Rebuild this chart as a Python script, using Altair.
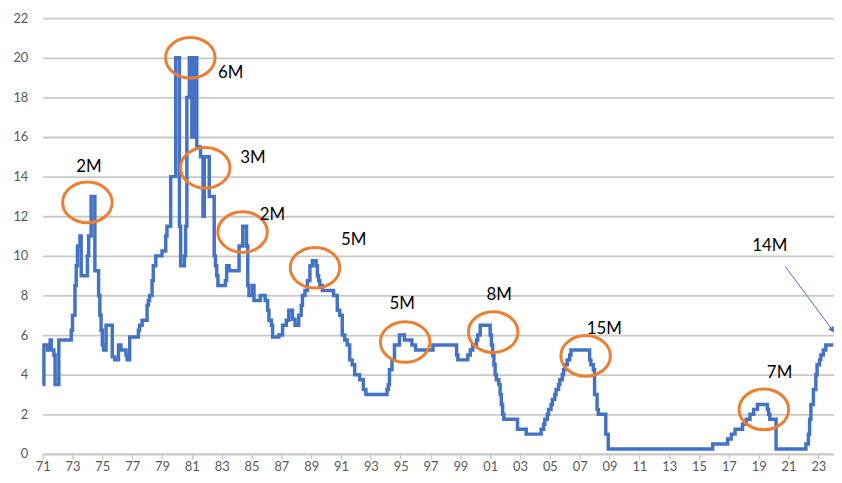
import altair as alt
import pandas as pd

# Policy-rate breakpoints (month the level starts, level in %)
months = [
    "1971-01", "1971-02", "1971-05", "1971-07", "1971-08", "1971-10", "1971-11", "1972-02", "1972-12",
    "1973-01", "1973-03", "1973-04", "1973-05", "1973-07", "1973-08", "1974-01", "1974-02", "1974-04",
    "1974-07", "1974-10", "1974-11", "1974-12", "1975-01", "1975-02", "1975-04", "1975-09", "1975-11",
    "1976-02", "1976-04", "1976-08", "1976-09", "1976-11", "1977-06", "1977-07", "1977-09", "1978-01",
    "1978-02", "1978-03", "1978-05", "1978-06", "1978-08", "1979-01", "1979-04", "1979-05", "1979-08",
    "1979-12", "1980-03", "1980-04", "1980-07", "1980-08", "1980-09", "1980-11", "1981-01", "1981-03",
    "1981-05", "1981-08", "1981-10", "1981-11", "1982-03", "1982-07", "1982-08", "1982-09", "1982-10",
    "1983-04", "1983-05", "1983-07", "1984-03", "1984-06", "1984-09", "1984-10", "1984-11", "1985-02",
    "1985-03", "1985-08", "1985-12", "1986-02", "1986-03", "1986-05", "1986-06", "1986-11", "1987-02",
    "1987-05", "1987-07", "1987-10", "1987-12", "1988-03", "1988-05", "1988-06", "1988-08", "1988-10",
    "1988-12", "1989-02", "1989-05", "1989-06", "1989-07", "1989-08", "1989-10", "1990-07", "1990-10",
    "1990-12", "1991-02", "1991-04", "1991-06", "1991-08", "1991-10", "1991-12", "1992-04", "1992-07",
    "1992-09", "1994-02", "1994-03", "1994-04", "1994-06", "1994-08", "1994-12", "1995-04", "1995-10",
    "1996-01", "1997-03", "1998-10", "1998-11", "1999-07", "1999-09", "1999-11", "2000-02", "2000-03",
    "2000-05", "2001-01", "2001-02", "2001-03", "2001-04", "2001-05", "2001-06", "2001-08", "2001-09",
    "2001-10", "2001-11", "2001-12", "2002-11", "2003-06", "2004-06", "2004-08", "2004-09", "2004-11",
    "2004-12", "2005-02", "2005-03", "2005-05", "2005-06", "2005-08", "2005-09", "2005-11", "2005-12",
    "2006-01", "2006-03", "2006-05", "2006-06", "2007-09", "2007-10", "2007-12", "2008-01", "2008-03",
    "2008-04", "2008-10", "2008-12", "2015-12", "2016-12", "2017-03", "2017-06", "2017-12", "2018-03",
    "2018-06", "2018-09", "2018-12", "2019-08", "2019-09", "2019-10", "2020-03", "2022-03", "2022-05",
    "2022-06", "2022-07", "2022-09", "2022-11", "2022-12", "2023-02", "2023-03", "2023-05", "2023-07",
    "2024-01",
]
rates = [
    3.5, 5.5, 5.25, 5.75, 5.25, 5.0, 3.5, 5.75, 6.25,
    7.0, 8.5, 9.5, 10.5, 11.0, 9.0, 10.0, 11.0, 13.0,
    9.25, 8.0, 7.0, 6.25, 5.5, 5.25, 6.5, 4.9, 4.75,
    5.5, 5.25, 5.0, 4.75, 5.9, 6.25, 6.5, 6.75, 7.5,
    7.75, 8.0, 8.75, 9.5, 10.0, 10.25, 11.0, 11.5, 14.0,
    20.0, 11.5, 9.5, 10.0, 11.5, 18.0, 20.0, 16.0, 20.0,
    15.5, 15.0, 12.0, 15.0, 13.0, 10.0, 9.5, 9.0, 8.5,
    8.75, 9.5, 9.25, 10.5, 11.5, 10.5, 8.5, 8.0, 8.5,
    7.75, 8.0, 7.75, 7.25, 6.75, 6.5, 5.9, 6.0, 6.5,
    6.75, 7.25, 6.8, 6.5, 7.0, 7.5, 8.0, 8.25, 8.75,
    9.5, 9.75, 9.5, 9.0, 8.75, 8.5, 8.25, 8.0, 7.25,
    7.0, 6.0, 5.75, 5.5, 4.75, 4.5, 4.0, 3.75, 3.25,
    3.0, 3.25, 3.5, 4.25, 4.75, 5.5, 6.0, 5.75, 5.5,
    5.25, 5.5, 5.0, 4.75, 5.0, 5.25, 5.5, 5.75, 6.0,
    6.5, 6.0, 5.5, 5.0, 4.5, 4.0, 3.75, 3.5, 3.0,
    2.5, 2.0, 1.75, 1.25, 1.0, 1.25, 1.5, 1.75, 2.0,
    2.25, 2.5, 2.75, 3.0, 3.25, 3.5, 3.75, 4.0, 4.25,
    4.5, 4.75, 5.0, 5.25, 4.75, 4.5, 4.25, 3.0, 2.25,
    2.0, 1.0, 0.25, 0.5, 0.75, 1.0, 1.25, 1.5, 1.75,
    2.0, 2.25, 2.5, 2.25, 2.0, 1.75, 0.25, 0.5, 1.0,
    1.75, 2.5, 3.25, 4.0, 4.5, 4.75, 5.0, 5.25, 5.5,
    5.5,
]

# Annotations: label text, label anchor, circle centre (decimal year, rate)
ann_labels = ["2M", "6M", "3M", "2M", "5M", "5M", "8M", "15M", "7M"]
label_year = [1974.1, 1983.6, 1985.1, 1986.4, 1991.85, 1995.1, 2001.6, 2008.65, 2020.4]
label_rate = [14.5, 19.25, 14.95, 12.05, 10.8, 7.55, 8.0, 6.3, 4.1]
circle_year = [1974.0, 1980.9, 1981.9, 1984.4, 1989.26, 1995.3, 2001.2, 2007.4, 2019.35]
circle_rate = [12.7, 20.0, 14.45, 11.2, 9.4, 5.65, 6.15, 4.95, 2.25]

arrow_label = ["14M"]
arrow_label_year = [2019.75]
arrow_label_rate = [10.5]
arrow_from = [2020.8, 9.45]
arrow_to = [2023.95, 6.25]

tick_years = list(range(1971, 2024, 2))
y_ticks = list(range(0, 23, 2))


def to_year(s):
    y, m = s.split("-")
    return int(y) + (int(m) - 1) / 12


series = pd.DataFrame({"t": [to_year(m) for m in months], "rate": rates})
circles = pd.DataFrame({"t": circle_year, "rate": circle_rate})
labels = pd.DataFrame({"t": label_year + arrow_label_year,
                       "rate": label_rate + arrow_label_rate,
                       "text": ann_labels + arrow_label})
arrow = pd.DataFrame({"t": [arrow_from[0]], "rate": [arrow_from[1]],
                      "t2": [arrow_to[0]], "rate2": [arrow_to[1]]})
head = pd.DataFrame({"t": [arrow_to[0]], "rate": [arrow_to[1]]})

BLUE = "#4472C4"
ORANGE = "#ED7D31"
GRID = "#C8C8C8"
LABEL = "#595959"

xscale = alt.Scale(domain=[1971, 2024.05], nice=False, zero=False)
yscale = alt.Scale(domain=[0, 22], nice=False)

xaxis = alt.Axis(values=tick_years, grid=False,
                 labelExpr="substring(format(datum.value, 'd'), 2)",
                 domainColor=GRID, domainWidth=1.8, tickColor=GRID, tickWidth=1.5,
                 tickSize=5, labelColor=LABEL, labelFont="Lato", labelFontSize=13,
                 labelPadding=2, labelFlush=False, labelOverlap=False)
yaxis = alt.Axis(values=y_ticks, grid=True, gridColor=GRID, gridOpacity=1,
                 gridWidth=1.8, domain=False,
                 ticks=False, labelColor=LABEL, labelFont="Lato",
                 labelFontSize=13, labelPadding=15, labelOverlap=False)

x_enc = alt.X("t:Q", scale=xscale, title=None, axis=xaxis)
y_enc = alt.Y("rate:Q", scale=yscale, title=None, axis=yaxis)

line = alt.Chart(series).mark_line(interpolate="step-after", color=BLUE,
                                   strokeWidth=3.5).encode(x=x_enc, y=y_enc)

ellipse = "M -1 0 A 1 0.82 0 1 1 1 0 A 1 0.82 0 1 1 -1 0 Z"
circ = alt.Chart(circles).mark_point(shape=ellipse, size=2500, filled=False,
                                     stroke=ORANGE, strokeWidth=3, opacity=1).encode(
    x=x_enc, y=y_enc)

text = alt.Chart(labels).mark_text(font="Lato", fontSize=17, color="#000000").encode(
    x=x_enc, y=y_enc, text="text:N")

rule = alt.Chart(arrow).mark_rule(color=BLUE, strokeWidth=1).encode(
    x=x_enc, y=y_enc, x2="t2:Q", y2="rate2:Q")

arrowhead = alt.Chart(head).mark_point(shape="triangle-up", size=45, filled=True,
                                       color=BLUE, opacity=1, angle=143).encode(
    x=x_enc, y=y_enc)

chart = alt.layer(line, circ, text, rule, arrowhead).properties(
    width=799, height=440,
    padding={"left": 35, "top": 8, "right": 0, "bottom": 20},
    autosize=alt.AutoSizeParams(type="none"),
    background="white",
).configure_view(stroke=None)

chart.save("out.html", embed_options={"renderer": "svg", "actions": False})
